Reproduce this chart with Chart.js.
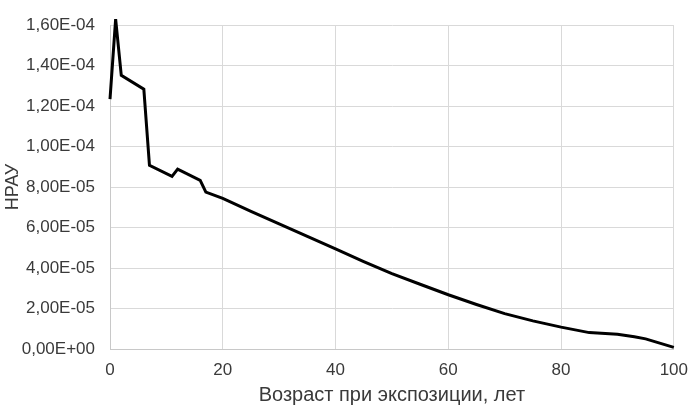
<!DOCTYPE html>
<html>
<head>
<meta charset="utf-8">
<script src="https://cdn.jsdelivr.net/npm/chart.js@4/dist/chart.umd.min.js"></script>
<style>
  html, body { margin: 0; padding: 0; background: #fff; overflow: hidden; }
  #wrap { width: 699px; height: 407px; }
</style>
</head>
<body>
<div id="wrap"><canvas id="chart"></canvas></div>
<script>
// age at exposure, years
const ages = [0, 1, 2, 6, 7, 11, 12, 16, 17, 20, 25, 30, 35, 40, 45, 50, 55, 60, 65, 70, 75, 80, 85, 90, 93, 95, 100];
// HRAU values
const hrau = [1.235e-4, 1.63e-4, 1.352e-4, 1.284e-4, 9.08e-5, 8.53e-5, 8.89e-5, 8.33e-5, 7.75e-5,
  7.44e-5, 6.8e-5, 6.18e-5, 5.56e-5, 4.95e-5, 4.32e-5, 3.72e-5, 3.2e-5, 2.68e-5, 2.2e-5,
  1.75e-5, 1.39e-5, 1.08e-5, 8.1e-6, 7.3e-6, 6.1e-6, 5.0e-6, 0.8e-6];
const xTitle = 'Возраст при экспозиции, лет';
const yTitle = 'НРАУ';

function fmtExp(v) {
  if (Math.abs(v) < 1e-12) return '0,00E+00';
  const [m, e] = v.toExponential(2).split('e');
  const n = parseInt(e, 10);
  const sign = n < 0 ? '-' : '+';
  return m.replace('.', ',') + 'E' + sign + String(Math.abs(n)).padStart(2, '0');
}

const family = '"Liberation Sans", Arial, sans-serif';
const textColor = '#3a3a3a';

new Chart(document.getElementById('chart'), {
  type: 'scatter',
  data: {
    datasets: [{
      data: ages.map((a, i) => ({ x: a, y: hrau[i] })),
      showLine: true,
      borderColor: '#000',
      borderWidth: 3,
      pointRadius: 0,
      tension: 0,
      clip: false
    }]
  },
  options: {
    responsive: true,
    maintainAspectRatio: false,
    animation: false,
    layout: { padding: { top: 7, right: 0, left: 0, bottom: 0 } },
    plugins: { legend: { display: false }, tooltip: { enabled: false } },
    scales: {
      x: {
        type: 'linear',
        min: 0, max: 100,
        afterFit: s => { s.height = 58; },
        ticks: { stepSize: 20, color: textColor, font: { family, size: 17 }, padding: 11, maxRotation: 0 },
        grid: { color: '#d9d9d9', lineWidth: 1, drawTicks: false },
        border: { color: '#c8c8c8' },
        title: { display: true, text: xTitle, color: textColor, font: { family, size: 20 }, padding: { top: 0, bottom: 0 } }
      },
      y: {
        min: 0, max: 1.6e-4,
        afterFit: s => { s.width = 110; },
        ticks: { stepSize: 2e-5, color: textColor, font: { family, size: 17 }, padding: 15, callback: v => fmtExp(v) },
        grid: { color: '#d9d9d9', lineWidth: 1, drawTicks: false },
        border: { color: '#c8c8c8' },
        title: { display: true, text: yTitle, color: textColor, font: { family, size: 18 }, padding: { top: 2, bottom: 0 } }
      }
    }
  }
});
</script>
</body>
</html>
